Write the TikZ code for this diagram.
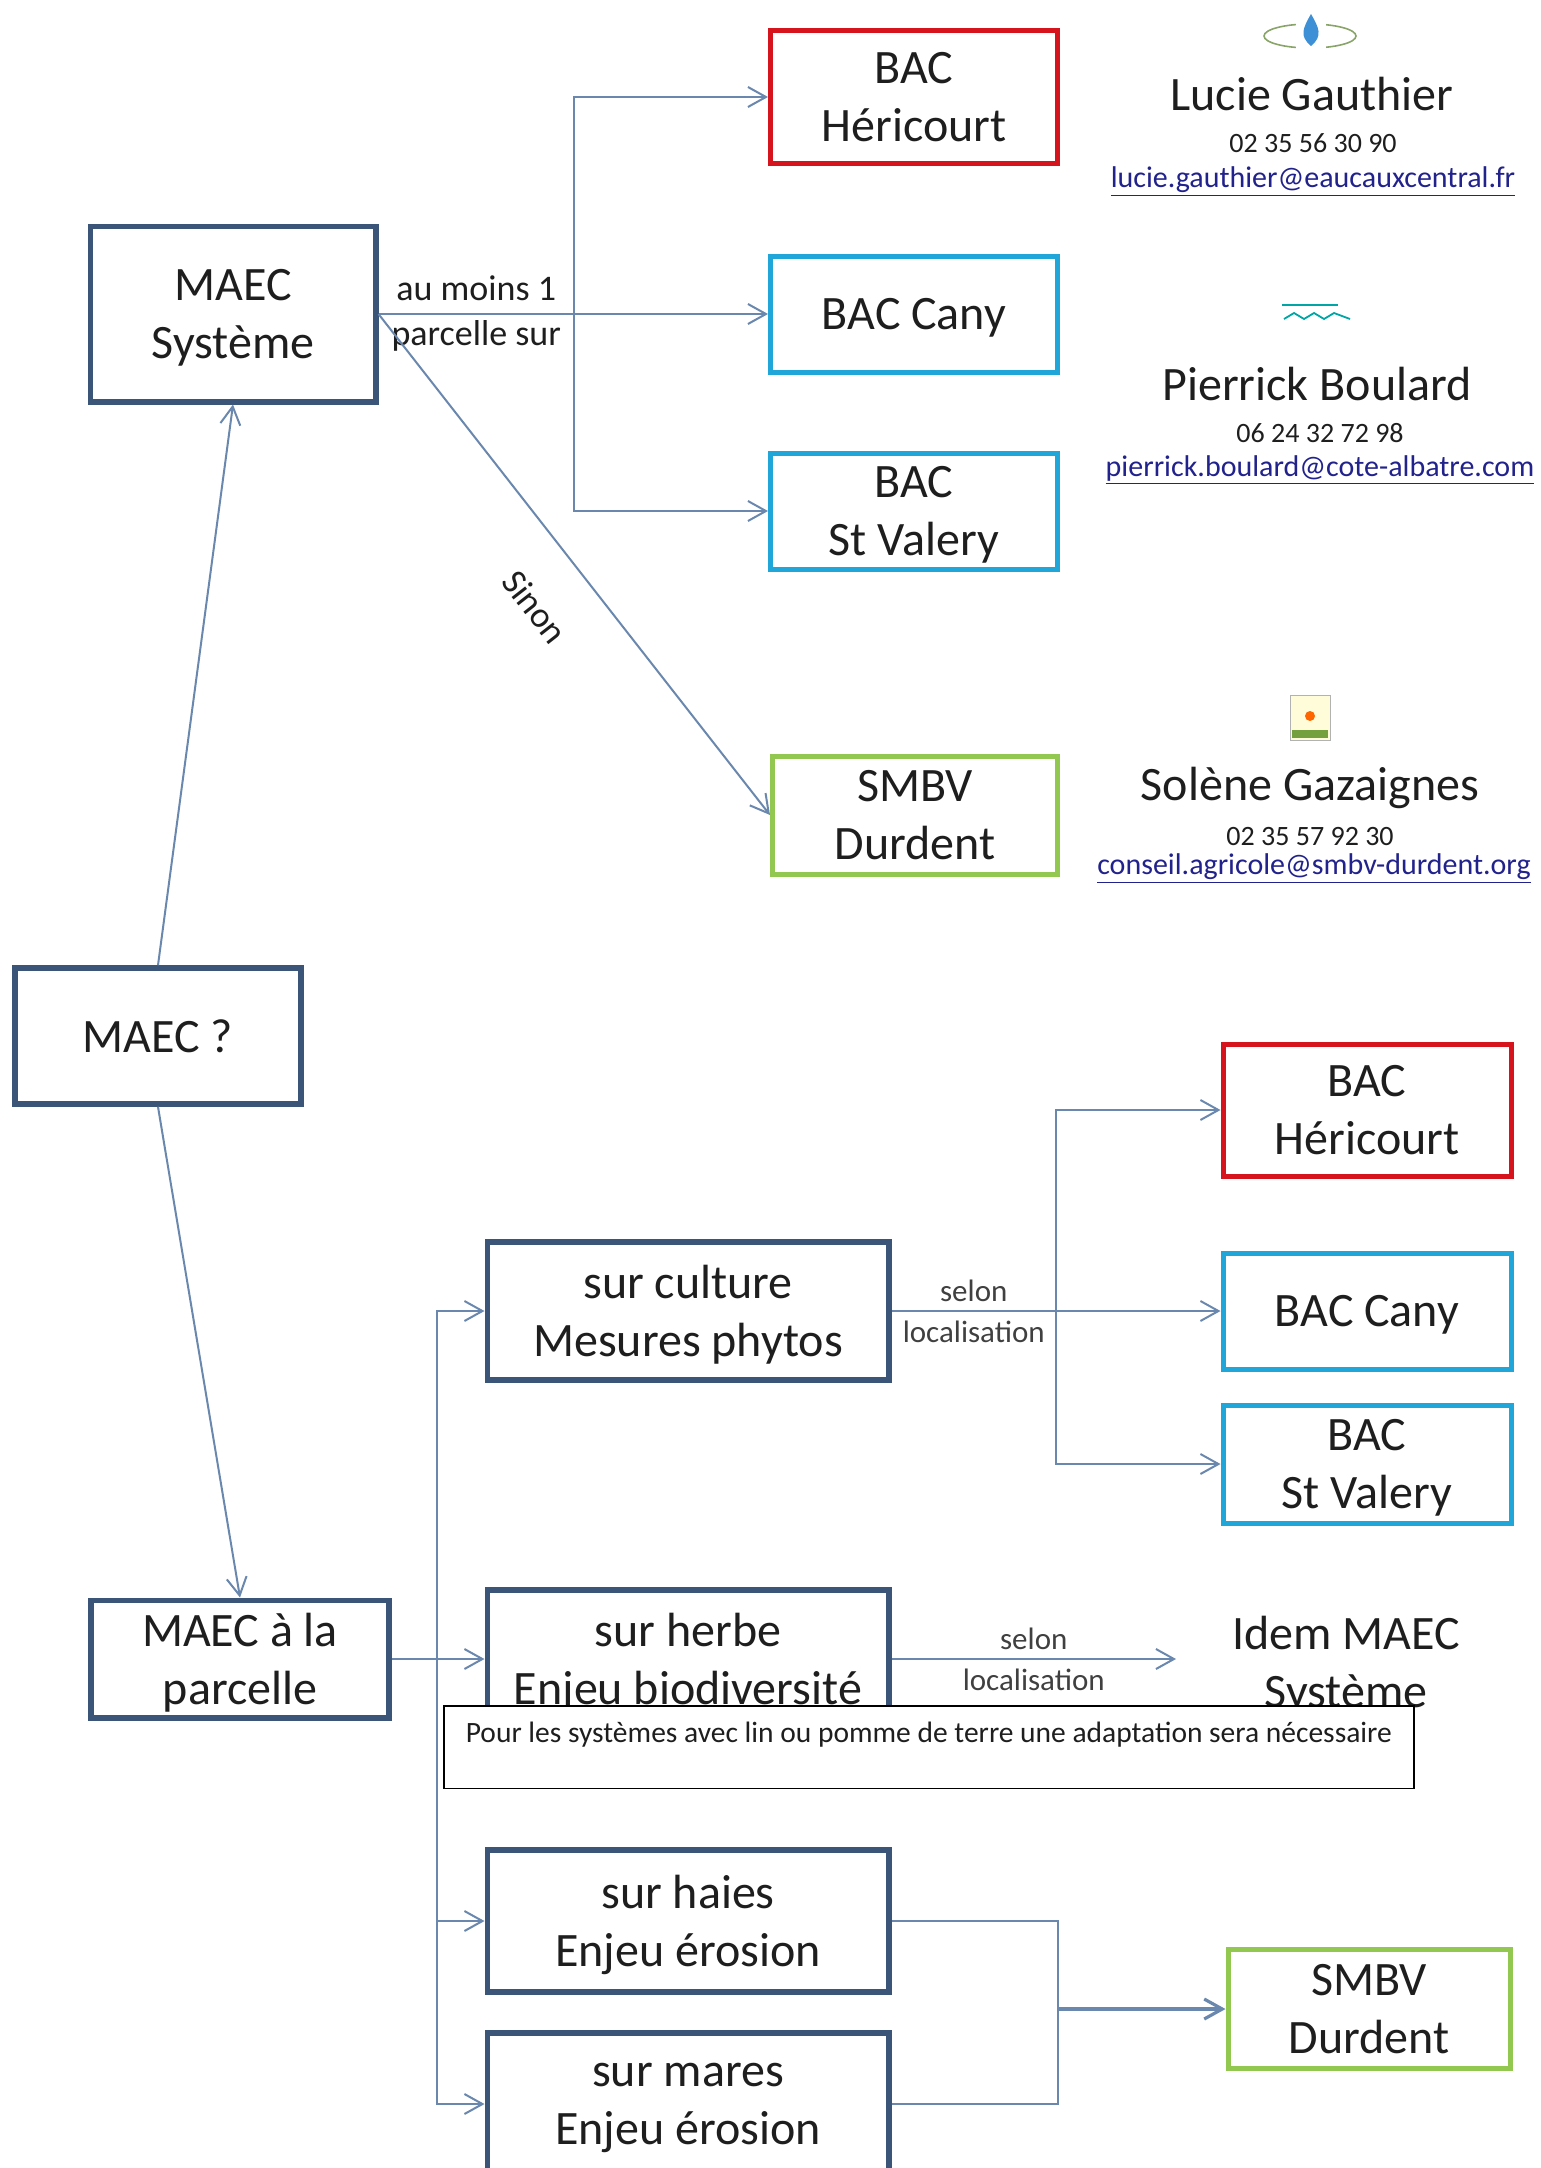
\documentclass[tikz,border=0pt]{standalone}
\usepackage{fontspec}
\setmainfont{Carlito}
\usepackage{tikz}
\usetikzlibrary{arrows.meta,positioning,calc}
\definecolor{cadre}{HTML}{3B5578}
\definecolor{rouge}{HTML}{D6141E}
\definecolor{cyanbac}{HTML}{21A6DA}
\definecolor{vert}{HTML}{92C850}
\definecolor{fil}{HTML}{6A88AE}
\definecolor{texte}{HTML}{1E1E1E}
\definecolor{mailcol}{HTML}{22228C}
\definecolor{goutte}{HTML}{3D8FD6}
\tikzstyle{boite} = [rectangle, draw=cadre, line width=2.8pt, fill=white, align=center, text=texte, font=\fontsize{24}{29}\selectfont, inner sep=0pt, text depth=0pt]
\tikzstyle{bacrouge} = [boite, draw=rouge, line width=2.5pt]
\tikzstyle{bacbleu} = [boite, draw=cyanbac, line width=2.5pt]
\tikzstyle{bacvert} = [boite, draw=vert, line width=2.5pt]
\tikzstyle{fleche} = [draw=fil, line width=1pt, -{Straight Barb[length=9pt,width=10pt]}]
\tikzstyle{trait} = [draw=fil, line width=1pt]
\tikzstyle{etiq} = [align=center, text=texte, font=\fontsize{18}{22.5}\selectfont, inner sep=0pt]
\tikzstyle{etiqp} = [align=center, text=texte!85, font=\fontsize{15.5}{20.5}\selectfont, inner sep=0pt]
\tikzstyle{nom} = [anchor=base, text=texte, font=\fontsize{24}{29}\selectfont, inner sep=0pt]
\tikzstyle{tel} = [anchor=base, text=texte, font=\fontsize{14}{17}\selectfont, inner sep=0pt]
\tikzstyle{mail} = [anchor=base, text=mailcol, font=\fontsize{15}{17}\selectfont, inner sep=0pt]
\tikzstyle{note} = [rectangle, draw=black, line width=0.8pt, fill=white, align=left, text=texte, font=\fontsize{14.75}{17}\selectfont, inner xsep=10pt, inner ysep=8pt, text depth=15pt, minimum width=485pt]

\begin{document}
\begin{tikzpicture}[x=0.5pt, y=-0.5pt]
    \useasboundingbox (0,0) rectangle (1541,2168);
    \clip (0,0) rectangle (1541,2168);
    % partie haute : MAEC Systeme
    \node[boite, minimum width=142.7pt, minimum height=87.7pt] (sys) at (233,314) {MAEC\\Système};
    \node[bacrouge, minimum width=143.5pt, minimum height=66.5pt] (bacH1) at (914,97) {BAC\\Héricourt};
    \node[bacbleu, minimum width=143.5pt, minimum height=58pt] (bacC1) at (914,314) {BAC Cany};
    \node[bacbleu, minimum width=143.5pt, minimum height=58pt] (bacS1) at (914,511) {BAC\\St Valery};
    \node[bacvert, minimum width=142.5pt, minimum height=59pt] (smbv1) at (915,815) {SMBV\\Durdent};
    \node[boite, minimum width=143pt, minimum height=68pt] (q) at (158,1036) {MAEC~?};

    \coordinate (jonc1) at (574,314);
    \draw[fleche] (sys.east) -- (bacC1.west);
    \draw[fleche] (jonc1) |- (bacH1.west);
    \draw[fleche] (jonc1) |- (bacS1.west);
    \node[etiq] (lmoins) at ($(sys.east)!0.5!(jonc1)$) {au moins 1\\parcelle sur};
    \draw[fleche] (sys.east) -- (smbv1.west);
    \node[etiq, rotate=-52] (lsinon) at (535,607) {Sinon};
    \draw[fleche] (q.north) -- (sys.south);

    % contacts
    \draw[vert!50!gray, line width=0.8pt] (1310,36) ellipse (46 and 12);
    \fill[white] (1296,14) rectangle (1326,50);
    \fill[goutte] (1311,14) .. controls (1319,28) and (1323,36) .. (1311,46) .. controls (1299,36) and (1303,28) .. (1311,14);
    \node[nom] (nom1) at (1312,110) {Lucie Gauthier};
    \node[tel] (tel1) at (1313,152) {02 35 56 30 90};
    \node[mail] (mail1) at (1313,187) {\underline{lucie.gauthier@eaucauxcentral.fr}};

    \draw[teal!70!cyan, line width=0.6pt] (1282,305) -- (1338,305);
    \draw[teal!70!cyan, line width=0.9pt] (1284,319) -- (1294,313) -- (1304,319) -- (1314,313) -- (1324,319) -- (1334,313) -- (1350,319);
    \node[nom] (nom2) at (1317,400) {Pierrick Boulard};
    \node[tel] (tel2) at (1320,442) {06 24 32 72 98};
    \node[mail] (mail2) at (1320,476) {\underline{pierrick.boulard@cote-albatre.com}};

    \draw[gray!60, fill=yellow!15] (1290,695) rectangle (1330,740);
    \fill[orange!80!red] (1310,716) circle (5);
    \fill[vert!80!black] (1292,730) rectangle (1328,738);
    \node[nom] (nom3) at (1310,800) {Solène Gazaignes};
    \node[tel] (tel3) at (1310,845) {02 35 57 92 30};
    \node[mail] (mail3) at (1314,874) {\underline{conseil.agricole@smbv-durdent.org}};

    % partie basse : MAEC a la parcelle
    \node[boite, minimum width=149pt, minimum height=58.7pt] (parc) at (240,1659) {MAEC à la\\parcelle};
    \node[boite, minimum width=200.7pt, minimum height=69.2pt] (cult) at (688,1311) {sur culture\\Mesures phytos};
    \node[boite, minimum width=200.7pt, minimum height=69.2pt] (herbe) at (688,1659) {sur herbe\\Enjeu biodiversité};
    \node[boite, minimum width=200.7pt, minimum height=71.2pt] (haies) at (688,1921) {sur haies\\Enjeu érosion};
    \node[boite, minimum width=200.7pt, minimum height=71.2pt] (mares) at (688,2104) {sur mares\\Enjeu érosion};
    \node[bacrouge, minimum width=144pt, minimum height=66pt] (bacH2) at (1367,1110) {BAC\\Héricourt};
    \node[bacbleu, minimum width=144pt, minimum height=58pt] (bacC2) at (1367,1311) {BAC Cany};
    \node[bacbleu, minimum width=144pt, minimum height=59pt] (bacS2) at (1367,1464) {BAC\\St Valery};
    \node[bacvert, minimum width=141pt, minimum height=59.5pt] (smbv2) at (1369,2009) {SMBV\\Durdent};
    \node[boite, draw=none, fill=none] (idem) at (1346,1662) {Idem MAEC\\Système};

    \draw[fleche] (q.south) -- (parc.north);
    \coordinate (jonc2) at (437,1659);
    \draw[trait] (parc.east) -- (jonc2);
    \draw[fleche] (jonc2) |- (cult.west);
    \draw[fleche] (jonc2) -- (herbe.west);
    \draw[fleche] (jonc2) |- (haies.west);
    \draw[fleche] (jonc2) |- (mares.west);

    \coordinate (jonc3) at (1056,1311);
    \draw[trait] (cult.east) -- (jonc3);
    \draw[fleche] (jonc3) |- (bacH2.west);
    \draw[fleche] (jonc3) -- (bacC2.west);
    \draw[fleche] (jonc3) |- (bacS2.west);
    \node[etiqp] (lselon1) at ($(cult.east)!0.5!(jonc3)$) {selon\\localisation};

    \coordinate (fidem) at (1176,1659);
    \draw[fleche] (herbe.east) -- (fidem);
    \node[etiqp] (lselon2) at ($(herbe.east)!0.5!(fidem)$) {selon\\localisation};

    \coordinate (jonc4) at (1058,2009);
    \draw[trait] (haies.east) -| (jonc4) |- (mares.east);
    \draw[fleche, line width=1.6pt] (jonc4) -- (smbv2.west);

    % encadre de remarque
    \node[note, anchor=north west] (avert) at (443,1705) {Pour les systèmes avec lin ou pomme de terre une adaptation sera nécessaire};
\end{tikzpicture}
\end{document}
